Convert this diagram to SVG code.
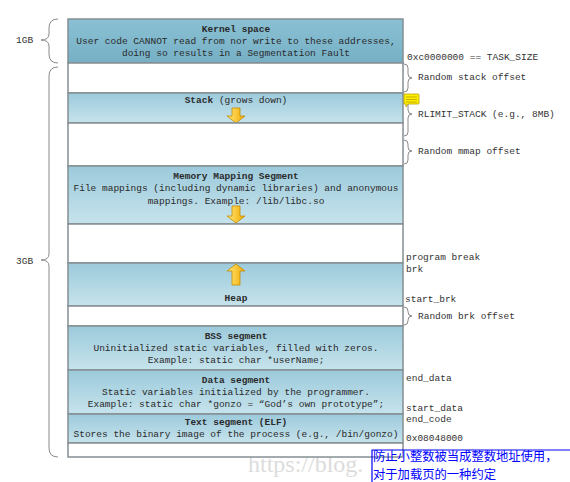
<svg xmlns="http://www.w3.org/2000/svg" width="570" height="482" viewBox="0 0 570 482">
<defs>
<linearGradient id="gk" x1="0" y1="0" x2="0" y2="1"><stop offset="0" stop-color="#8ac0d4"/><stop offset="1" stop-color="#76b0c5"/></linearGradient>
<linearGradient id="gs" x1="0" y1="0" x2="0" y2="1"><stop offset="0" stop-color="#9ccadb"/><stop offset="1" stop-color="#c6e3ec"/></linearGradient>
<linearGradient id="ga" x1="0" y1="0" x2="1" y2="0"><stop offset="0" stop-color="#ffe87a"/><stop offset="1" stop-color="#f2a900"/></linearGradient>
<style>
.seg{fill:url(#gs);stroke:#858f93;stroke-width:1.5}
.wht{fill:#ffffff;stroke:#858f93;stroke-width:1.5}
.t{font-family:"Liberation Mono","DejaVu Sans Mono",monospace;font-size:9.5px;fill:#2a2a2a}
.c{text-anchor:middle}
.b{font-weight:bold}
.lbl{font-family:"Liberation Mono","DejaVu Sans Mono",monospace;font-size:9.5px;fill:#333}
.br{fill:none;stroke:#8a8a8a;stroke-width:1}
.arr{fill:url(#ga);stroke:#c58a00;stroke-width:0.8}
.cn{font-family:"Noto Sans CJK SC",sans-serif;font-size:12.3px;fill:#0000ff}
</style>
</defs>
<text x="248" y="472" font-family="Liberation Serif,serif" font-size="24" fill="#dcdcdc">https://blog.</text>
<g id="kernel"><rect x="68" y="19" width="335" height="44" fill="url(#gk)" stroke="#858f93" stroke-width="1.5"/>
<text class="t c b" x="236" y="32">Kernel space</text>
<text class="t c" x="236" y="44">User code CANNOT read from nor write to these addresses,</text>
<text class="t c" x="236" y="56">doing so results in a Segmentation Fault</text></g>
<g id="gap1"><rect class="wht" x="68" y="63" width="335" height="30"/></g>
<g id="stack"><rect class="seg" x="68" y="93" width="335" height="30"/>
<text class="t c" x="236" y="103"><tspan class="b">Stack</tspan> (grows down)</text>
<path class="arr" d="M232,108 H240 V116 H245 L236,123 L227,116 H232 Z"/></g>
<g id="gap2"><rect class="wht" x="68" y="123" width="335" height="43"/></g>
<g id="mmap"><rect class="seg" x="68" y="166" width="335" height="58"/>
<text class="t c b" x="236" y="179">Memory Mapping Segment</text>
<text class="t c" x="236" y="191">File mappings (including dynamic libraries) and anonymous</text>
<text class="t c" x="236" y="204">mappings. Example: /lib/libc.so</text>
<path class="arr" d="M232,206 H240 V216 H245 L236,223 L227,216 H232 Z"/></g>
<g id="gap3"><rect class="wht" x="68" y="224" width="335" height="39"/></g>
<g id="heap"><rect class="seg" x="68" y="263" width="335" height="43"/>
<path class="arr" d="M236,264 L245,271 H240 V285 H232 V271 H227 Z"/>
<text class="t c b" x="236" y="301">Heap</text></g>
<g id="gap4"><rect class="wht" x="68" y="306" width="335" height="20"/></g>
<g id="bss"><rect class="seg" x="68" y="326" width="335" height="44"/>
<text class="t c b" x="236" y="339">BSS segment</text>
<text class="t c" x="236" y="351">Uninitialized static variables, filled with zeros.</text>
<text class="t c" x="236" y="363">Example: static char *userName;</text></g>
<g id="data"><rect class="seg" x="68" y="370" width="335" height="44"/>
<text class="t c b" x="236" y="383">Data segment</text>
<text class="t c" x="236" y="395">Static variables initialized by the programmer.</text>
<text class="t c" x="236" y="407">Example: static char *gonzo = “God’s own prototype”;</text></g>
<g id="text"><rect class="seg" x="68" y="414" width="335" height="29"/>
<text class="t c b" x="236" y="425">Text segment (ELF)</text>
<text class="t c" x="236" y="437">Stores the binary image of the process (e.g., /bin/gonzo)</text></g>
<g id="gap5"><rect class="wht" x="68" y="443" width="335" height="14"/></g>
<g id="connectors">
<path class="br" d="M58,19 Q49,19 49,28 V34 Q49,40 41,40 Q49,40 49,46 V54 Q49,63 58,63"/>
<path class="br" d="M58,67 Q49,67 49,76 V254 Q49,260 41,260 Q49,260 49,266 V448 Q49,457 58,457"/>
<path class="br" d="M404,64 Q408,64 408,68 V74 Q408,78 412,78 Q408,78 408,82 V88 Q408,92 404,92"/>
<path class="br" d="M404,95 Q408,95 408,99 V110 Q408,114 412,114 Q408,114 408,118 V132 Q408,136 404,136"/>
<path class="br" d="M404,140 Q408,140 408,144 V147 Q408,151 412,151 Q408,151 408,155 V160 Q408,164 404,164"/>
<path class="br" d="M404,307 Q408,307 408,311 V312 Q408,316 412,316 Q408,316 408,320 V321 Q408,325 404,325"/>
</g>
<g id="note">
<path d="M404,94 H418 Q419,94 419,95 V103 Q419,104 418,104 H408 L406,107 L406,104 H404 Z" fill="#fff200" stroke="#b8a000" stroke-width="0.8"/>
<path d="M406,97 H417 M406,99.5 H417 M406,102 H417" stroke="#b89a00" stroke-width="0.8"/>
</g>
<g id="labels">
<text class="lbl" x="16" y="43">1GB</text>
<text class="lbl" x="16" y="264">3GB</text>
<text class="lbl" x="407" y="60">0xc0000000 == TASK_SIZE</text>
<text class="lbl" x="418" y="80">Random stack offset</text>
<text class="lbl" x="418" y="117">RLIMIT_STACK (e.g., 8MB)</text>
<text class="lbl" x="418" y="154">Random mmap offset</text>
<text class="lbl" x="406" y="260">program break</text>
<text class="lbl" x="406" y="272">brk</text>
<text class="lbl" x="405" y="302">start_brk</text>
<text class="lbl" x="418" y="319">Random brk offset</text>
<text class="lbl" x="406" y="381">end_data</text>
<text class="lbl" x="406" y="411">start_data</text>
<text class="lbl" x="406" y="422">end_code</text>
<text class="lbl" x="406" y="441">0x08048000</text>
</g>
<g id="note-cn">
<path d="M372,482 V450 H570" fill="none" stroke="#0000ff" stroke-width="1.2"/>
<text class="cn" x="373" y="460.5">防止小整数被当成整数地址使用，</text>
<text class="cn" x="373" y="478.5">对于加载页的一种约定</text>
</g>
</svg>
